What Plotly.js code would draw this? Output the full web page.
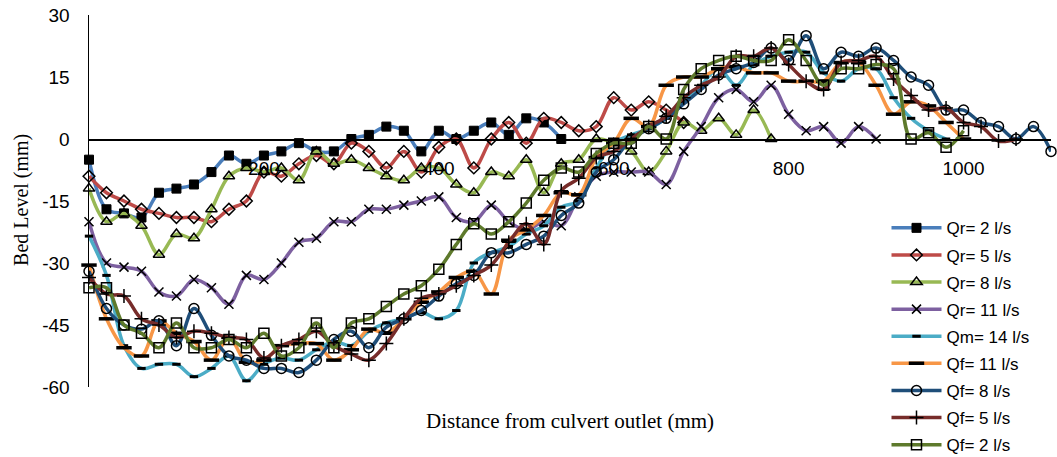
<!DOCTYPE html>
<html>
<head>
<meta charset="utf-8">
<script src="https://cdn.plot.ly/plotly-3.0.1.min.js"></script>
<style>html,body{margin:0;padding:0;background:#fff;}#chart{width:1057px;height:457px;}</style>
</head>
<body>
<div id="chart"></div>
<script>
// Distance from culvert outlet (mm)
const distance = [0,20,40,60,80,100,120,140,160,180,200,220,240,260,280,300,320,340,360,380,400,420,440,460,480,500,520,540,560,580,600,620,640,660,680,700,720,740,760,780,800,820,840,860,880,900,920,940,960,980,1000,1020,1040,1060,1080,1100];

const seriesNames = ["Qr= 2 l/s","Qr= 5 l/s","Qr= 8 l/s","Qr= 11 l/s","Qm= 14 l/s","Qf= 11 l/s","Qf= 8 l/s","Qf= 5 l/s","Qf= 2 l/s"];

// Bed level (mm)
const qr2 = [-5,-17,-18,-19,-13,-12,-11,-8,-4,-6,-4,-3,-1,-3,-3,0,1,3,2,-3,2,0,2,4,1,5,4,0];
const qr5 = [-9,-13,-15,-17,-18,-19,-19,-20,-17,-15,-8,-9,-6,-4,-6,-1,-3,-7,-3,-8,-2,0,-7,0,4,-1,5,4,2,3,10,7,9,7,4];
const qr8 = [-12,-20,-18,-21,-28,-23,-24,-17,-9,-7,-8,-7,-10,-3,-6,-5,-7,-9,-10,-7,-7,-11,-13,-8,-9,-5,-13,-6,-5,0,-1,-3,-8,-3,4,2,5,1,7,0];
const qr11 = [-20,-30,-31,-32,-37,-38,-34,-36,-40,-33,-34,-30,-25,-24,-20,-20,-17,-17,-16,-15,-14,-19,-20,-16,-20,-22,-20,-21,-14,-9,-8,-8,-8,-11,-3,3,10,12,9,13,6,2,3,-1,3,0];
const qm14 = [-23.5,-33,-50,-55.5,-54.5,-54.5,-57.5,-55.5,-52.5,-58.5,-54.5,-53,-53.5,-51,-49,-50,-46.5,-44.5,-43.5,-42,-43.5,-41.5,-30,-27.5,-26,-23,-21,-16.5,-15,-7,-1,1,2.5,5,9,13,17,13,18,20,21,21,16,14,17,17,10,5,2,0];
const qf11 = [-30.5,-43.5,-50.5,-52.5,-44,-47,-49,-53.5,-48,-54,-53.5,-50,-49.5,-49.5,-53.5,-51,-46,-47,-43.5,-39.5,-37,-33.5,-32,-37.5,-24.5,-22,-18.5,-13,-13.5,-4.5,-1,5,3,13,15,15,17,17.5,16,16,14,14,14,18.5,18.5,13,6,9,8,4,0];
const qf8 = [-32,-41,-45,-46,-44,-50,-41,-47.5,-52.5,-53.5,-55.5,-55.5,-56.5,-53.5,-48.5,-46.5,-50.5,-45.5,-43.5,-41.5,-38,-35,-33,-27.5,-27.5,-25.5,-23.5,-18.5,-15.5,-8,-5,0,2.5,5,8.5,12,15.5,17,18.5,22,19,25,17,21,20,22,19,15,13,7,7,4,3,0,3,-3];
const qf5 = [-33.5,-37.5,-38,-43.5,-45,-48,-46.5,-47,-48,-48.5,-53,-50,-48.5,-46.5,-50,-52,-53.5,-49.5,-43.5,-38.5,-37.5,-35.5,-33,-30.5,-25,-20.5,-25.5,-12.5,-9.5,-4.5,-3,0,3,5.5,10,13,15,20,20,22,18,14,12,18.5,19,20,14.5,10.5,7,7.5,4,3,-0.5,0];
const qf2 = [-36,-36,-45,-47,-50.5,-44.5,-50.5,-50.5,-48.5,-50.5,-47,-52.5,-50.5,-44.5,-50.5,-44.5,-43.5,-40.5,-37.5,-35.5,-31.5,-25.5,-20.5,-23,-20,-15.5,-10,-7,-8,-3.5,-1,-1,3,0,12,17,19,20,19,19,24,19,13,17,17,18,17,0,1.5,-2,2];

const yTicks = [-60,-45,-30,-15,0,15,30];
const xTicks = [200,400,600,800,1000];

const allValues = [qr2,qr5,qr8,qr11,qm14,qf11,qf8,qf5,qf2];
const lineColors = ["#4A7EBB","#BE4B48","#98B954","#7D60A0","#4BACC6","#F79646","#1F4E79","#772C2A","#5E7A2C"];
const symbols = ["square","diamond-open","triangle-up-open","x-thin-open","line-ew","line-ew","circle-open","cross-thin-open","square-open"];
const sizes = [9,9,10,9,6,11,10,10,10];
const markerLineW = [1,1.5,1.5,1.5,3,3.5,1.5,1.5,1.5];

const traces = allValues.map((vals, k) => ({
  type: "scatter",
  mode: "lines+markers",
  name: seriesNames[k],
  legendgroup: "g" + k,
  x: distance.slice(0, vals.length),
  y: vals,
  line: {color: lineColors[k], width: 3.5, shape: "spline", smoothing: 1},
  marker: {symbol: symbols[k], size: sizes[k], color: "#000000", line: {color: "#000000", width: markerLineW[k]}},
  cliponaxis: false
}));

const layout = {
  width: 1057, height: 457,
  margin: {l: 89, r: 5.5, t: 15, b: 70, autoexpand: false},
  paper_bgcolor: "#ffffff", plot_bgcolor: "#ffffff",
  font: {family: "Liberation Sans, Arial, sans-serif", color: "#000000"},
  showlegend: true,
  legend: {
    x: 0.829, y: 0.475, xanchor: "left", yanchor: "top",
    font: {family: "Liberation Sans, Arial, sans-serif", size: 17, color: "#000000"},
    bgcolor: "rgba(255,255,255,0)", itemwidth: 50, traceorder: "grouped", tracegroupgap: 2
  },
  xaxis: {
    range: [0, 1100], tickvals: xTicks, ticktext: xTicks.map(String),
    showgrid: false, zeroline: false, showline: true, linecolor: "#000000", linewidth: 1.5,
    anchor: "free", position: 2/3, ticks: "", ticklabelstandoff: 12,
    tickfont: {family: "Liberation Sans, Arial, sans-serif", size: 19, color: "#000000"}
  },
  yaxis: {
    range: [-60, 30], tickvals: yTicks, ticktext: yTicks.map(String),
    showgrid: false, zeroline: false, showline: true, linecolor: "#000000", linewidth: 1.5,
    ticks: "", ticklabelstandoff: 14,
    tickfont: {family: "Liberation Sans, Arial, sans-serif", size: 19, color: "#000000"}
  },
  annotations: [
    {text: "Distance from culvert outlet (mm)", xref: "paper", yref: "paper", x: 0.5, y: -0.0914,
     xanchor: "center", yanchor: "middle", showarrow: false,
     font: {family: "Liberation Serif, Times New Roman, serif", size: 21, color: "#000000"}},
    {text: "Bed Level (mm)", xref: "paper", yref: "paper", x: -0.0696, y: 0.503, textangle: -90,
     xanchor: "center", yanchor: "middle", showarrow: false,
     font: {family: "Liberation Serif, Times New Roman, serif", size: 20, color: "#000000"}}
  ]
};

Plotly.newPlot("chart", traces, layout, {staticPlot: true, displayModeBar: false});
</script>
</body>
</html>
